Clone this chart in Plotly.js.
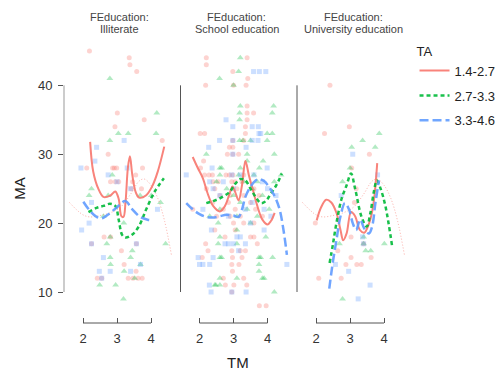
<!DOCTYPE html>
<html><head><meta charset="utf-8">
<script src="https://cdn.plot.ly/plotly-3.0.1.min.js"></script>
<style>html,body{margin:0;padding:0;background:#fff}#chart{width:504px;height:370px}</style>
</head><body><div id="chart"></div>
<script>
// ---------- data ----------
const panelNames = ["Illiterate", "School education", "University education"];
const groupNames = ["1.4-2.7", "2.7-3.3", "3.3-4.6"];
const xTickVals = [2, 3, 4];
const yTickVals = [10, 20, 30, 40];

// scatter points [TM, MA]
const p1Low = [[2.19,45],[3.36,44],[3.38,43],[3.58,42],[3.01,36],[3.80,35],[2.94,34],[4.33,32],[2.74,30],[2.11,28],[2.87,28],[2.92,28],[2.99,28],[3.75,28],[3.55,27],[2.81,26],[2.95,26],[3.05,26],[3.46,26],[3.42,25],[3.72,25],[2.62,18],[2.81,18],[2.25,17],[3.57,17],[3.13,16],[3.21,14],[3.56,13],[2.42,12],[2.55,12],[3.33,12],[3.47,12],[3.62,12],[3.74,12]];
const p1Mid = [[2.79,41],[4.17,36],[3.04,33],[3.33,33],[4.15,33],[2.79,32],[2.86,27],[2.25,25],[2.18,24],[2.74,24],[3.68,24],[4.01,24],[4.28,23],[2.6,21],[3.2,20],[2.8,18],[2.7,17],[4.43,17],[3.45,16],[2.8,15],[3.4,15],[2.81,14],[3.69,14],[3.21,13],[2.49,11],[2.96,11],[3.52,12],[3.19,9]];
const p1High = [[3.21,32],[2.40,31],[2.35,29],[1.94,28],[3.30,28],[2.74,27],[3.0,26],[3.4,25],[2.25,23],[4.19,22],[2.18,20],[1.96,19],[2.25,17],[3.57,17],[2.6,15],[2.48,13],[2.8,13],[3.4,13],[3.69,14],[2.55,12]];

const p2Low = [[2.2,44],[3.4,44],[2.2,43],[2.98,42],[3.42,41],[2.18,40],[3.0,40],[3.37,40],[3.4,37],[3.4,36],[3.59,36],[3.4,35],[3.35,34],[2.02,33],[2.15,33],[3.35,33],[2.98,32],[3.3,32],[2.88,31],[2.98,31],[2.82,30],[2.98,30],[3.15,30],[2.12,29],[2.03,28],[2.15,27],[2.28,27],[2.38,27],[2.78,27],[2.88,27],[2.98,27],[3.3,27],[2.4,26],[2.55,26],[2.95,26],[3.05,26],[3.25,26],[2.2,25],[2.45,25],[3.1,25],[3.6,25],[2.6,24],[2.9,24],[3.3,24],[3.75,24],[2.39,23],[2.85,23],[3.5,23],[1.8,22],[2.7,22],[3.05,22],[3.65,22],[2.5,21],[2.9,21],[3.2,21],[3.85,21],[3.0,20],[3.3,20],[3.6,20],[2.45,19],[3.05,19],[2.75,18],[3.5,18],[3.6,18],[2.18,17],[3.7,17],[2.25,16],[2.95,16],[3.2,16],[3.35,16],[2.08,15],[2.97,15],[3.25,15],[2.95,14],[3.16,14],[2.97,13],[2.7,12],[3.3,12],[2.76,11],[3.01,11],[3.39,11],[2.95,10],[3.76,8],[3.96,8]];
const p2Mid = [[3.2,44],[3.15,42],[2.59,41],[3.0,40],[3.2,37],[4.18,37],[3.18,36],[4.14,36],[3.18,35],[3.99,33],[4.14,33],[3.18,32],[3.28,32],[3.5,32],[3.99,32],[2.2,30],[3.4,30],[4.2,30],[3.4,29],[3.87,29],[2.6,28],[2.65,28],[3.2,28],[3.76,28],[2.6,27],[3.15,27],[3.6,27],[4.4,27],[2.5,26],[3.3,26],[3.7,26],[4.2,26],[2.8,25],[3.55,25],[3.0,24],[3.85,24],[3.2,23],[2.6,22],[3.4,22],[4.05,22],[2.3,21],[3.1,21],[3.7,21],[2.55,20],[3.5,20],[3.1,19],[2.6,18],[3.95,18],[2.55,17],[3.1,17],[2.6,15],[2.65,15],[3.75,15],[3.8,15],[4.15,15],[3.75,14],[3.75,13],[2.6,12],[3.1,12],[3.85,12],[3.9,12],[2.6,11],[2.45,11],[2.48,11],[4.2,10]];
const p2High = [[3.59,42],[3.76,42],[3.95,42],[2.78,35],[2.98,34],[3.55,34],[3.73,34],[3.75,33],[3.8,33],[2.59,32],[2.98,32],[3.55,32],[3.72,32],[2.27,31],[3.37,31],[2.98,30],[2.37,28],[3.99,28],[1.61,27],[2.95,27],[3.2,27],[3.6,27],[2.3,26],[2.7,26],[3.85,26],[2.4,25],[3.0,25],[4.0,25],[4.25,24],[2.6,24],[3.55,23],[2.1,22],[3.35,22],[3.9,22],[2.85,21],[4.1,21],[3.5,20],[2.35,19],[3.9,19],[3.1,18],[3.2,18],[2.75,17],[2.85,17],[3.0,17],[3.35,17],[3.15,16],[1.96,15],[2.4,15],[2.0,14],[2.1,14],[2.3,14],[4.57,14],[2.29,11],[2.34,10],[2.95,10],[3.37,10]];

const p3Low = [[2.41,40],[2.98,34],[2.25,33],[3.57,30],[3.05,28],[3.18,25],[3.13,23],[1.98,20],[3.03,18],[3.4,17],[2.64,16],[3.03,15],[3.62,15],[2.88,14],[3.2,14],[3.33,14],[2.08,12],[2.74,12]];
const p3Mid = [[3.86,33],[3.37,32],[3.05,31],[3.74,31],[3.0,28],[2.78,26],[3.4,18],[2.69,17],[3.4,17],[4.01,17],[3.46,16],[3.61,16],[2.78,9]];
const p3High = [[3.81,27],[3.08,30],[2.74,24],[3.37,18],[3.4,17],[2.57,14],[2.96,13],[3.59,11],[3.24,9]];

// smoothed curves [TM, MA]
const s1Low = [[2.21,31.8],[2.3,27.5],[2.45,25],[2.6,23.8],[2.8,24],[2.95,24.6],[3.05,23.5],[3.13,21],[3.19,20.9],[3.25,23],[3.32,28],[3.38,29.7],[3.45,27],[3.55,24.5],[3.65,23.7],[3.85,24],[4.05,25.5],[4.2,27.5],[4.39,31.1]];
const s1Mid = [[2.16,21.6],[2.4,22.2],[2.6,22.5],[2.79,22.8],[2.95,22.5],[3.05,20.5],[3.15,18.3],[3.25,17.9],[3.44,18.3],[3.64,19.5],[3.86,22],[4.1,24.5],[4.38,26.5]];
const s1High = [[2.01,23.1],[2.2,21.8],[2.4,20.9],[2.55,20.7],[2.75,21.3],[3.0,22.3],[3.24,23.2],[3.45,22.0],[3.68,20.9],[3.9,20.5],[4.07,20.4]];

const s2Low = [[1.8,29.6],[1.95,28],[2.1,26.5],[2.24,24.3],[2.4,22.5],[2.6,21.7],[2.75,22.5],[2.9,24.5],[2.97,25.3],[3.05,24.5],[3.15,23.3],[3.25,25.5],[3.35,29],[3.45,27],[3.57,24.8],[3.7,22.5],[3.85,20.5],[4.0,19.8],[4.1,20.3],[4.21,21.5]];
const s2Mid = [[2.2,22.9],[2.4,23.2],[2.6,23.6],[2.88,24.5],[3.05,25.7],[3.2,26.4],[3.35,26.2],[3.5,25],[3.65,23.8],[3.81,22.9],[3.95,23.2],[4.1,24.3],[4.26,25.5],[4.42,27.2]];
const s2High = [[1.61,22.9],[1.8,22],[2.0,21.3],[2.2,20.9],[2.39,20.8],[2.6,21],[2.79,21.2],[3.0,21.1],[3.15,20.9],[3.25,22],[3.35,23.8],[3.5,25.3],[3.65,26.2],[3.76,26.4],[3.9,26.1],[4.01,25.5],[4.2,24],[4.35,22.1],[4.47,19],[4.57,15.4]];

const s3Low = [[2.02,20.4],[2.15,22.3],[2.3,23.4],[2.45,23],[2.6,21.5],[2.72,19],[2.8,17.5],[2.9,18.5],[3.03,21.6],[3.15,21],[3.29,19],[3.42,18.6],[3.55,19.8],[3.64,21.4],[3.72,24],[3.8,28.7]];
const s3Mid = [[2.4,14.2],[2.5,17],[2.6,20],[2.75,23.5],[2.9,25.5],[3.03,27.2],[3.15,25],[3.34,20.9],[3.49,19.5],[3.6,21.5],[3.7,24.5],[3.79,26.2],[3.9,25],[4.04,22.5],[4.24,16.6]];
const s3High = [[2.39,10.5],[2.5,14.5],[2.6,17.5],[2.72,21],[2.85,22.9],[2.97,22],[3.08,20],[3.18,19],[3.3,20.5],[3.42,19.2],[3.56,18.5],[3.65,19.5],[3.75,23],[3.85,26.2]];

// faint dotted reference curve shown in outer panels
const sGhost = [[1.6,23],[1.8,22],[2.0,21.2],[2.2,20.9],[2.5,21.1],[2.8,21.5],[3.1,22.3],[3.4,24.2],[3.65,26.1],[3.8,26.4],[4.0,25.5],[4.2,23.6],[4.4,20.3],[4.6,15.4]];

// ---------- styles ----------
const colors = ["#F8766D", "#00BA38", "#619CFF"];
const fills = ["rgba(248,118,109,0.32)", "rgba(0,186,56,0.3)", "rgba(97,156,255,0.32)"];
const symbols = ["circle", "triangle-up", "square"];
const msize = [5, 6, 5];
const dashes = ["solid", "4px,3px", "9px,4px"];
const lwidths = [2, 2.5, 2.5];

const pointSets = [[p1Low, p1Mid, p1High], [p2Low, p2Mid, p2High], [p3Low, p3Mid, p3High]];
const smoothSets = [[s1Low, s1Mid, s1High], [s2Low, s2Mid, s2High], [s3Low, s3Mid, s3High]];
const xaxesIds = ["x", "x2", "x3"];

const traces = [];
pointSets.forEach((set, pi) => {
  set.forEach((pts, gi) => {
    traces.push({
      type: "scatter", mode: "markers", xaxis: xaxesIds[pi], yaxis: "y",
      x: pts.map(d => d[0]), y: pts.map(d => d[1]),
      marker: {symbol: symbols[gi], size: msize[gi], color: fills[gi], line: {width: 0}},
      showlegend: false, hoverinfo: "skip", cliponaxis: false
    });
  });
});
[0, 2].forEach(pi => {
  traces.push({
    type: "scatter", mode: "lines", xaxis: xaxesIds[pi], yaxis: "y",
    x: sGhost.map(d => d[0]), y: sGhost.map(d => d[1]),
    line: {color: "rgba(248,118,109,0.6)", width: 1, dash: "1px,2px", shape: "spline"},
    showlegend: false, hoverinfo: "skip"
  });
});
smoothSets.forEach((set, pi) => {
  set.forEach((pts, gi) => {
    traces.push({
      type: "scatter", mode: "lines", xaxis: xaxesIds[pi], yaxis: "y",
      x: pts.map(d => d[0]), y: pts.map(d => d[1]),
      name: groupNames[gi], legendgroup: "g" + gi,
      line: {color: colors[gi], width: lwidths[gi], dash: dashes[gi], shape: "spline"},
      opacity: 0.9, showlegend: pi === 0, hoverinfo: "skip"
    });
  });
});

const fontFam = "Liberation Sans, Arial, sans-serif";
const xRange = [1.441, 4.735];
const domains = [[0, 0.3246], [0.3377, 0.6623], [0.6754, 1]];

function xaxisDef(di) {
  return {
    domain: domains[di], range: xRange, anchor: "y",
    tickvals: xTickVals, ticktext: xTickVals.map(String),
    ticks: "inside", ticklen: 5, tickwidth: 1, tickcolor: "#555",
    showline: false, showgrid: false, zeroline: false,
    tickfont: {family: fontFam, size: 13, color: "#333"}, ticklabelstandoff: 6
  };
}

const shapes = [];
xaxesIds.forEach((ax, pi) => {
  shapes.push({type: "line", xref: ax, yref: "y domain",
    x0: xTickVals[0], x1: xTickVals[xTickVals.length - 1], y0: 0, y1: 0,
    line: {color: "#555", width: 1}});
  shapes.push({type: "line", xref: ax + " domain", yref: "y",
    x0: 0, x1: 0, y0: yTickVals[0], y1: yTickVals[yTickVals.length - 1],
    line: {color: pi === 0 ? "#999" : "#555", width: 1}});
});

const annotations = [];
panelNames.forEach((nm, pi) => {
  annotations.push({xref: xaxesIds[pi] + " domain", yref: "paper", x: 0.5, y: 1.097,
    text: "FEducation:", showarrow: false, xanchor: "center", yanchor: "middle",
    font: {family: fontFam, size: 11, color: "#444"}});
  annotations.push({xref: xaxesIds[pi] + " domain", yref: "paper", x: 0.5, y: 1.054,
    text: nm, showarrow: false, xanchor: "center", yanchor: "middle",
    font: {family: fontFam, size: 11, color: "#444"}});
});
annotations.push({xref: "paper", yref: "paper", x: -0.128, y: 0.484, text: "MA",
  textangle: -90, showarrow: false, xanchor: "center", yanchor: "middle",
  font: {family: fontFam, size: 15, color: "#222"}});
annotations.push({xref: "paper", yref: "paper", x: 0.504, y: -0.14, text: "TM",
  showarrow: false, xanchor: "center", yanchor: "middle",
  font: {family: fontFam, size: 15, color: "#222"}});

const layout = {
  width: 504, height: 370,
  margin: {l: 64, r: 95, t: 44, b: 47, autoexpand: false},
  paper_bgcolor: "#fff", plot_bgcolor: "#fff",
  font: {family: fontFam, color: "#333"},
  xaxis: xaxisDef(0), xaxis2: xaxisDef(1), xaxis3: xaxisDef(2),
  yaxis: {
    range: [5.5, 46], anchor: "x", tickvals: yTickVals,
    ticks: "outside", ticklen: 5, tickwidth: 1, tickcolor: "#555",
    showline: false, showgrid: false, zeroline: false,
    tickfont: {family: fontFam, size: 13, color: "#333"}, ticklabelstandoff: 3
  },
  shapes: shapes, annotations: annotations,
  showlegend: true,
  legend: {
    x: 1.016, y: 1.019, xanchor: "left", yanchor: "top",
    title: {text: "TA", font: {family: fontFam, size: 13, color: "#222"}},
    font: {family: fontFam, size: 13, color: "#222"},
    bgcolor: "rgba(0,0,0,0)", tracegroupgap: 5, itemwidth: 30
  }
};

Plotly.newPlot("chart", traces, layout, {displayModeBar: false, staticPlot: true});
</script></body></html>
